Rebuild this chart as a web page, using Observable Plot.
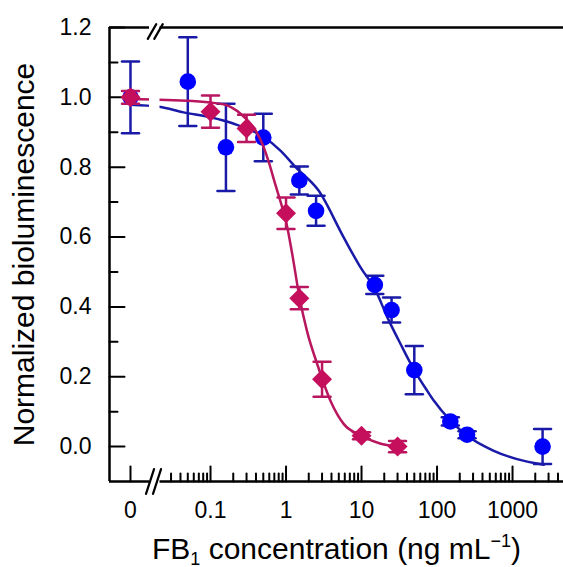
<!DOCTYPE html>
<html><head><meta charset="utf-8">
<script src="https://cdn.jsdelivr.net/npm/d3@7"></script>
<script src="https://cdn.jsdelivr.net/npm/@observablehq/plot@0.6"></script>
<style>html,body{margin:0;padding:0;background:#fff;}</style>
</head><body><div id="chart"></div>
<script>
// ---- data ----
const blueConc = [0, 0.05, 0.16, 0.5, 1.5, 2.5, 15, 25, 50, 150, 250, 2500];
const blueMean = [1.0, 1.045, 0.857, 0.885, 0.762, 0.675, 0.463, 0.391, 0.219, 0.072, 0.034, 0.0];
const blueErr  = [0.103, 0.127, 0.125, 0.068, 0.04, 0.043, 0.026, 0.036, 0.069, 0.012, 0.01, 0.05];
const magConc = [0, 0.1, 0.3, 1, 1.5, 3, 10, 30];
const magMean = [1.0, 0.959, 0.911, 0.668, 0.425, 0.193, 0.031, 0.0];
const magErr  = [0.018, 0.046, 0.039, 0.045, 0.032, 0.05, 0.01, 0.016];
const blueFitConc = [0, 0.021, 0.044, 0.1, 0.2, 0.5, 0.85, 1.34, 2.7, 5.8, 9.7, 15.3, 22, 33, 49, 74, 91, 151, 251, 565, 1150, 2600];
const blueFitY    = [0.979, 0.973, 0.957, 0.943, 0.925, 0.887, 0.847, 0.80, 0.733, 0.599, 0.513, 0.448, 0.370, 0.293, 0.222, 0.160, 0.131, 0.074, 0.031, -0.012, -0.036, -0.052];
const magFitConc = [0, 0.021, 0.1, 0.16, 0.25, 0.4, 0.5, 0.6, 0.7, 0.85, 1.0, 1.2, 1.5, 1.9, 2.6, 3.9, 5.8, 10, 18, 31];
const magFitY    = [0.995, 0.993, 0.985, 0.978, 0.953, 0.903, 0.86, 0.81, 0.76, 0.70, 0.645, 0.555, 0.43, 0.33, 0.235, 0.13, 0.065, 0.031, 0.008, 0.0];
const xTickValues = [0, 0.1, 1, 10, 100, 1000];
const xTickLabels = ["0", "0.1", "1", "10", "100", "1000"];
const xMinorValues = [0.03,0.04,0.05,0.06,0.07,0.08,0.09, 0.2,0.3,0.4,0.5,0.6,0.7,0.8,0.9, 2,3,4,5,6,7,8,9, 20,30,40,50,60,70,80,90, 200,300,400,500,600,700,800,900, 2000,3000,4000];
const yTickValues = [0, 0.2, 0.4, 0.6, 0.8, 1.0, 1.2];
const yTickLabels = ["0.0", "0.2", "0.4", "0.6", "0.8", "1.0", "1.2"];
const yMinorValues = [0.1, 0.3, 0.5, 0.7, 0.9, 1.1];
const xTitle = "FB1 concentration (ng mL-1)";
const yTitle = "Normalized bioluminescence";

// ---- broken log axis: 0 is placed left of the break ----
const ZERO_POS = -2.06, X_MIN = -2.338, X_MAX = 3.675;
const BREAK_L1 = -1.808, BREAK_L2 = -1.669, BREAK_C = -1.755;
const Y_MIN = -0.1, Y_MAX = 1.2;
const pos = c => c === 0 ? ZERO_POS : Math.log10(c);

const blue = blueConc.map((c, i) => ({c, m: blueMean[i], e: blueErr[i]}));
const mag = magConc.map((c, i) => ({c, m: magMean[i], e: magErr[i]}));
const blueFit = blueFitConc.map((c, i) => ({c, y: blueFitY[i]}));
const magFit = magFitConc.map((c, i) => ({c, y: magFitY[i]}));
const xTickPos = xTickValues.map(pos);
const xMinorPos = xMinorValues.map(pos);

const BLUE_M = "#0000ff", BLUE_L = "#1a1aa8";
const MAG_M = "#c60f5c", MAG_L = "#b8165f";

const bar = {draw(ctx, l) { ctx.moveTo(0, l / 2); ctx.lineTo(0, -l / 2); }};
const tickUp = {draw(ctx, l) { ctx.moveTo(0, 0); ctx.lineTo(0, -l); }};

function errMarks(data, color, capLen) {
  return [
    Plot.ruleX(data, {x: d => pos(d.c), y1: d => d.m - d.e, y2: d => d.m + d.e, stroke: color, strokeWidth: 2.5}),
    Plot.vector(data, {x: d => pos(d.c), y: d => d.m + d.e, length: capLen, rotate: 90, anchor: "start", shape: bar, stroke: color, strokeWidth: 2.5}),
    Plot.vector(data, {x: d => pos(d.c), y: d => d.m - d.e, length: capLen, rotate: 90, anchor: "start", shape: bar, stroke: color, strokeWidth: 2.5})
  ];
}
function slash(y, dx, dy, len, rot) {
  return Plot.vector([0], {x: () => BREAK_C, y: () => y, dx, dy, length: len, rotate: rot, anchor: "start", shape: bar, stroke: "black", strokeWidth: 2.2});
}

const plot = Plot.plot({
  width: 563,
  height: 567,
  marginLeft: 109,
  marginRight: 0,
  marginTop: 27,
  marginBottom: 86,
  style: {fontFamily: "'Liberation Sans', Arial, sans-serif", fontSize: "23px", background: "white", color: "black"},
  x: {type: "linear", domain: [X_MIN, X_MAX]},
  y: {domain: [Y_MIN, Y_MAX]},
  marks: [
    // tick labels
    Plot.axisY(yTickValues, {anchor: "left", tickSize: 0, tickPadding: 18, fontSize: 23, tickFormat: d => yTickLabels[yTickValues.indexOf(d)], label: null}),
    Plot.axisX(xTickPos, {anchor: "bottom", tickSize: 0, tickPadding: 20, fontSize: 23, tickFormat: d => xTickLabels[xTickPos.indexOf(d)], label: null}),
    // inward ticks
    Plot.vector(xTickPos, {x: d => d, y: () => Y_MIN, length: 15, anchor: "start", shape: tickUp, stroke: "black", strokeWidth: 2}),
    Plot.vector(xMinorPos, {x: d => d, y: () => Y_MIN, length: 8, anchor: "start", shape: tickUp, stroke: "black", strokeWidth: 2}),
    Plot.vector(yTickValues, {x: () => X_MIN, y: d => d, length: 15, rotate: 90, anchor: "start", shape: tickUp, stroke: "black", strokeWidth: 2}),
    Plot.vector(yMinorValues, {x: () => X_MIN, y: d => d, length: 8, rotate: 90, anchor: "start", shape: tickUp, stroke: "black", strokeWidth: 2}),
    // frame
    Plot.ruleY([Y_MIN, Y_MAX], {strokeWidth: 2.5}),
    Plot.ruleX([X_MIN], {strokeWidth: 2.5}),
    // blue series
    Plot.line(blueFit, {x: d => pos(d.c), y: "y", curve: "monotone-x", stroke: BLUE_L, strokeWidth: 2.5}),
    ...errMarks(blue, BLUE_L, 17),
    Plot.dot(blue, {x: d => pos(d.c), y: "m", r: 8.3, fill: BLUE_M}),
    // magenta series
    Plot.line(magFit, {x: d => pos(d.c), y: "y", curve: "monotone-x", stroke: MAG_L, strokeWidth: 2.5}),
    ...errMarks(mag, MAG_L, 17),
    Plot.dot(mag, {x: d => pos(d.c), y: "m", r: 9, symbol: "diamond2", fill: MAG_M}),
    // axis break
    Plot.rect([0], {x1: () => BREAK_L1, x2: () => BREAK_L2, y1: () => Y_MIN, y2: () => Y_MAX, fill: "white", insetTop: -4, insetBottom: -4}),
    slash(Y_MIN, -3.5, 0, 26, 18),
    slash(Y_MIN, 3.5, 0, 26, 18),
    slash(Y_MAX, -1.5, 4, 17, 30),
    slash(Y_MAX, 5, 4, 17, 30),
    // titles
    Plot.text([xTitle], {text: d => d, frameAnchor: "bottom", dy: 77, lineAnchor: "bottom", fontSize: 30}),
    Plot.text([yTitle], {text: d => d, frameAnchor: "left", dx: -75.7, rotate: -90, lineAnchor: "bottom", textAnchor: "middle", fontSize: 30})
  ]
});

document.getElementById("chart").appendChild(plot);

// rich text for the x title: subscript 1, superscript −1
d3.select(plot).selectAll("text").filter(function () { return this.textContent === xTitle; }).each(function () {
  const t = d3.select(this);
  t.text("");
  t.append("tspan").text("FB");
  t.append("tspan").attr("font-size", 18).attr("dy", 6).text("1");
  t.append("tspan").attr("dy", -6).text(" concentration (ng mL");
  t.append("tspan").attr("font-size", 18).attr("dy", -12).text("\u22121");
  t.append("tspan").attr("dy", 12).text(")");
});
</script>
</body></html>
